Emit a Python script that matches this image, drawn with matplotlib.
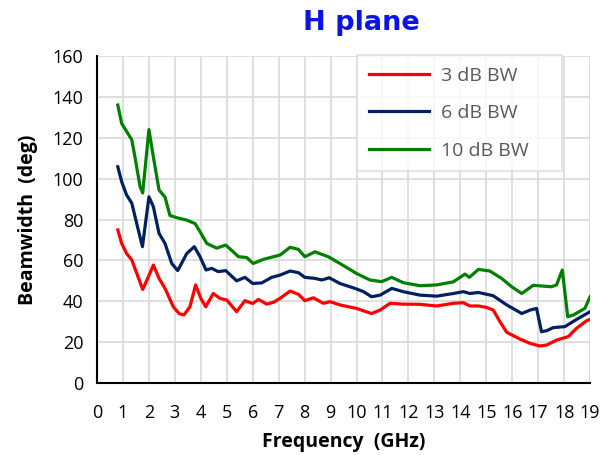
import numpy as np
import matplotlib.pyplot as plt

# H plane beamwidth vs frequency
freq_3db = [0.80, 0.95, 1.14, 1.34, 1.53, 1.76, 1.98, 2.17, 2.39, 2.62, 2.94, 3.16, 3.35, 3.58,
            3.80, 4.00, 4.19, 4.48, 4.74, 5.00, 5.38, 5.70, 6.00, 6.22, 6.54, 6.80, 7.05, 7.44,
            7.76, 8.01, 8.34, 8.72, 8.98, 9.36, 10.0, 10.58, 10.91, 11.29, 11.80, 12.45, 13.09,
            13.73, 14.12, 14.37, 14.70, 15.01, 15.27, 15.53, 15.79, 16.30, 16.69, 17.07, 17.33,
            17.71, 18.16, 18.48, 18.87, 19.0]
bw_3db = [74.9, 68.3, 63.4, 60.2, 53.7, 45.8, 52.0, 57.7, 51.2, 46.3, 37.3, 34.0, 33.3, 37.3,
          48.0, 41.4, 37.3, 43.8, 41.4, 40.6, 34.9, 40.3, 38.9, 40.9, 38.6, 39.5, 41.4, 45.0,
          43.4, 40.3, 41.7, 39.0, 39.8, 38.2, 36.5, 34.0, 35.7, 39.0, 38.6, 38.5, 37.7,
          39.0, 39.3, 37.7, 37.7, 37.0, 35.7, 30.0, 24.8, 21.5, 19.4, 18.1, 18.6,
          21.0, 22.7, 26.8, 30.5, 31.1]

freq_6db = [0.80, 0.95, 1.14, 1.34, 1.53, 1.75, 2.00, 2.17, 2.39, 2.62, 2.88, 3.11, 3.46, 3.75,
            3.97, 4.20, 4.42, 4.67, 4.96, 5.38, 5.70, 6.00, 6.35, 6.73, 7.05, 7.44, 7.76, 8.01,
            8.40, 8.66, 8.95, 9.36, 9.94, 10.27, 10.58, 10.91, 11.36, 11.80, 12.45, 13.09,
            13.73, 14.12, 14.37, 14.70, 15.27, 15.79, 16.37, 16.69, 16.94, 17.13, 17.33,
            17.58, 18.03, 18.48, 19.0]
bw_6db = [105.8, 98.5, 92.0, 88.0, 78.0, 66.7, 91.1, 86.3, 73.2, 68.3, 58.5, 55.0, 63.4, 66.7,
          61.8, 55.3, 56.1, 54.5, 55.0, 50.0, 51.7, 48.7, 49.0, 51.7, 52.8, 54.8, 54.0, 51.7,
          51.2, 50.4, 51.5, 48.7, 46.3, 44.7, 42.2, 43.0, 46.3, 44.7, 43.0, 42.5,
          43.8, 44.7, 43.8, 44.3, 42.7, 38.2, 34.0, 35.7, 36.5, 25.1, 25.6,
          27.1, 27.6, 31.1, 34.9]

freq_10db = [0.80, 0.95, 1.34, 1.46, 1.66, 1.76, 2.00, 2.17, 2.39, 2.62, 2.81, 3.07, 3.46, 3.78,
             3.97, 4.23, 4.61, 4.96, 5.25, 5.45, 5.77, 6.02, 6.41, 6.80, 7.05, 7.44, 7.76, 8.01,
             8.40, 8.91, 9.36, 10.0, 10.52, 10.97, 11.36, 11.80, 12.45, 13.09, 13.73, 14.18,
             14.35, 14.70, 15.14, 15.59, 15.98, 16.37, 16.81, 17.52, 17.71, 17.93, 18.14,
             18.36, 18.80, 19.0]
bw_10db = [136.0, 127.0, 119.0, 110.7, 96.0, 93.0, 124.0, 110.7, 94.4, 91.0, 82.0, 80.9, 79.7, 78.0,
           74.0, 68.3, 66.0, 67.5, 64.2, 61.8, 61.4, 58.5, 60.5, 61.8, 62.6, 66.4, 65.4, 61.8,
           64.2, 61.8, 58.5, 53.6, 50.4, 49.6, 51.7, 49.1, 47.6, 48.0, 49.5, 53.3,
           51.7, 55.6, 54.8, 51.2, 47.1, 43.8, 47.8, 47.1, 48.0, 55.3, 32.4,
           33.3, 36.5, 42.2]

plt.rcParams['font.family'] = ['Open Sans', 'DejaVu Sans']

fig = plt.figure(figsize=(6.11, 4.55), dpi=100)
ax = fig.add_axes([0.1588, 0.1582, 0.8069, 0.7187])

ax.plot(freq_3db, bw_3db, color='#ff0000', lw=2.3, label='3 dB BW')
ax.plot(freq_6db, bw_6db, color='#002060', lw=2.3, label='6 dB BW')
ax.plot(freq_10db, bw_10db, color='#008000', lw=2.3, label='10 dB BW')

ax.set_xlim(0, 19)
ax.set_ylim(0, 160)
ax.set_xticks(np.arange(0, 20, 1))
ax.set_yticks(np.arange(0, 161, 20))
ax.grid(True, color='#d9d9d9', lw=1.2)
ax.set_axisbelow(True)
ax.tick_params(labelsize=13, length=0, colors='black')
ax.tick_params(axis='x', pad=15)
ax.tick_params(axis='y', pad=10)
for s in ['top', 'right']:
    ax.spines[s].set_visible(False)
ax.spines['left'].set_linewidth(1.5)
ax.spines['bottom'].set_linewidth(1.5)

ax.set_xlabel('Frequency  (GHz)', fontsize=14, fontweight='bold', labelpad=7)
ax.set_ylabel('Beamwidth  (deg)', fontsize=14, fontweight='bold', labelpad=10)

fig.text(0.592, 0.950, 'H plane', color='#0a14e6', fontsize=19.5, fontweight='bold',
         ha='center', va='center', family='DejaVu Sans')

# legend box fixed to the reference's frame (x 357-562, y 55-167 px)
leg = ax.legend(loc='upper left',
                bbox_to_anchor=(357 / 611, 1 - 167 / 455, 205 / 611, 112 / 455),
                bbox_transform=fig.transFigure, mode='expand', fontsize=14, frameon=True,
                fancybox=False, handlelength=3.1, labelspacing=1.0, borderpad=0.6,
                handletextpad=0.6, borderaxespad=0)
leg.get_frame().set_edgecolor('#d9d9d9')
leg.get_frame().set_linewidth(1.2)
for t in leg.get_texts():
    t.set_color('#595959')

fig.savefig('out.png', dpi=100)
